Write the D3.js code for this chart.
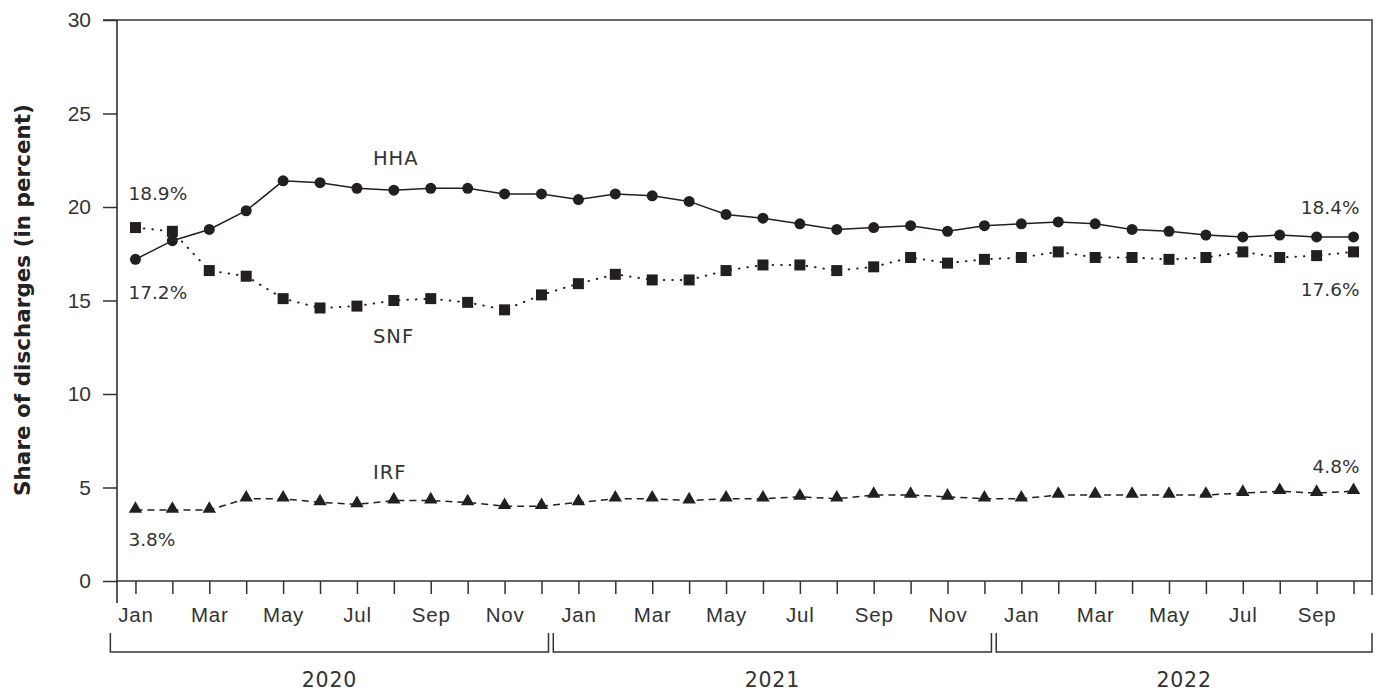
<!DOCTYPE html>
<html>
<head>
<meta charset="utf-8">
<script src="https://cdn.jsdelivr.net/npm/d3@7"></script>
<style>
  body { margin: 0; background: #fff; }
  svg { display: block; font-family: "DejaVu Sans", sans-serif; }
  .lbl { fill: #333; font-size: 19px; }
  .tick-x { fill: #333; font-size: 20.5px; letter-spacing: 0.8px; }
  .tick-y { fill: #333; font-size: 21px; }
  .ann { fill: #333; font-size: 18.5px; }
  .name { fill: #333; font-size: 19.5px; letter-spacing: 1px; }
</style>
</head>
<body>
<div id="chart"></div>
<script>
// Data
var years = [2020, 2021, 2022];
var monthNames = ["Jan", "Feb", "Mar", "Apr", "May", "Jun", "Jul", "Aug", "Sep", "Oct", "Nov", "Dec"];
var monthsPerYear = [12, 12, 10];

var hha = [17.2, 18.2, 18.8, 19.8, 21.4, 21.3, 21.0, 20.9, 21.0, 21.0, 20.7, 20.7,
           20.4, 20.7, 20.6, 20.3, 19.6, 19.4, 19.1, 18.8, 18.9, 19.0, 18.7, 19.0,
           19.1, 19.2, 19.1, 18.8, 18.7, 18.5, 18.4, 18.5, 18.4, 18.4];
var snf = [18.9, 18.7, 16.6, 16.3, 15.1, 14.6, 14.7, 15.0, 15.1, 14.9, 14.5, 15.3,
           15.9, 16.4, 16.1, 16.1, 16.6, 16.9, 16.9, 16.6, 16.8, 17.3, 17.0, 17.2,
           17.3, 17.6, 17.3, 17.3, 17.2, 17.3, 17.6, 17.3, 17.4, 17.6];
var irf = [3.8, 3.8, 3.8, 4.4, 4.4, 4.2, 4.1, 4.3, 4.3, 4.2, 4.0, 4.0,
           4.2, 4.4, 4.4, 4.3, 4.4, 4.4, 4.5, 4.4, 4.6, 4.6, 4.5, 4.4,
           4.4, 4.6, 4.6, 4.6, 4.6, 4.6, 4.7, 4.8, 4.7, 4.8];
var yTicks = [0, 5, 10, 15, 20, 25, 30];

// build month keys
var months = [];
years.forEach(function (yr, i) {
    for (var m = 0; m < monthsPerYear[i]; m++) {
        months.push({ key: yr + "-" + m, name: monthNames[m], year: yr, m: m });
    }
});

var width = 1380, height = 692;
var plotLeft = 117, plotRight = 1372, plotTop = 20, plotBottom = 581;

var svg = d3.select("#chart").append("svg")
    .attr("width", width)
    .attr("height", height);

var x = d3.scalePoint()
    .domain(months.map(function (d) { return d.key; }))
    .range([plotLeft, plotRight])
    .padding(0.5);
var y = d3.scaleLinear().domain([0, 30]).range([plotBottom, plotTop]);

// frame: top + right in gray
svg.append("path")
    .attr("d", "M" + (plotLeft - 14) + "," + plotTop + "H" + plotRight + "V" + 595)
    .attr("fill", "none")
    .attr("stroke", "#6b6b6b")
    .attr("stroke-width", 2);

// y axis
var yAxis = svg.append("g")
    .attr("transform", "translate(" + plotLeft + ",0)")
    .call(d3.axisLeft(y).tickValues(yTicks).tickSize(14).tickPadding(12));
yAxis.select(".domain").remove();
yAxis.selectAll("line").attr("stroke", "#333").attr("stroke-width", 1.5);
yAxis.selectAll("text").attr("class", "tick-y").attr("font-family", null).attr("font-size", null).attr("fill", null);
svg.append("line")
    .attr("x1", plotLeft).attr("x2", plotLeft)
    .attr("y1", plotTop).attr("y2", 603)
    .attr("stroke", "#222").attr("stroke-width", 1.5);

// x axis
var xAxis = svg.append("g")
    .attr("transform", "translate(0," + plotBottom + ")")
    .call(d3.axisBottom(x).tickSize(13).tickPadding(13)
        .tickFormat(function (k, i) { return i % 2 === 0 ? months[i].name : ""; }));
xAxis.select(".domain").attr("d", "M" + plotLeft + ",0H" + plotRight).attr("stroke", "#333").attr("stroke-width", 1.5);
xAxis.selectAll("line").attr("stroke", "#333").attr("stroke-width", 1.5);
xAxis.selectAll("text").attr("class", "tick-x").attr("font-family", null).attr("font-size", null).attr("fill", null);

// year brackets
var step = x.step();
years.forEach(function (yr, i) {
    var ms = months.filter(function (d) { return d.year === yr; });
    var x0 = x(ms[0].key) - step * 0.68;
    var x1 = i === years.length - 1 ? plotRight : x(ms[ms.length - 1].key) + step * 0.19;
    svg.append("path")
        .attr("d", "M" + x0 + ",633V652H" + x1 + "V633")
        .attr("fill", "none")
        .attr("stroke", "#333")
        .attr("stroke-width", 1.5);
    svg.append("text")
        .attr("class", "tick-x")
        .attr("x", (x0 + x1) / 2)
        .attr("y", 687)
        .attr("text-anchor", "middle")
        .text(yr);
});

// y title
svg.append("text")
    .attr("transform", "translate(30,300) rotate(-90)")
    .attr("text-anchor", "middle")
    .attr("font-size", "21.5px")
    .attr("font-weight", "bold")
    .attr("fill", "#222")
    .text("Share of discharges (in percent)");

// series
var ink = "#231f20";
function drawLine(values, dash) {
    var line = d3.line()
        .x(function (d, i) { return x(months[i].key); })
        .y(function (d) { return y(d); });
    svg.append("path")
        .datum(values)
        .attr("d", line)
        .attr("fill", "none")
        .attr("stroke", ink)
        .attr("stroke-width", dash === "dot" ? 2 : 1.5)
        .attr("stroke-linecap", dash === "dot" ? "round" : "butt")
        .attr("stroke-dasharray", dash === "dot" ? "0.5,8" : dash);
}
drawLine(hha, null);
drawLine(snf, "dot");
drawLine(irf, "7,5");

svg.selectAll(".hha").data(hha).enter().append("circle")
    .attr("cx", function (d, i) { return x(months[i].key); })
    .attr("cy", function (d) { return y(d); })
    .attr("r", 5.5)
    .attr("fill", ink);

svg.selectAll(".snf").data(snf).enter().append("rect")
    .attr("x", function (d, i) { return x(months[i].key) - 5.5; })
    .attr("y", function (d) { return y(d) - 5.5; })
    .attr("width", 11).attr("height", 11)
    .attr("fill", ink);

var tri = d3.symbol().type(d3.symbolTriangle).size(78);
svg.selectAll(".irf").data(irf).enter().append("path")
    .attr("transform", function (d, i) { return "translate(" + x(months[i].key) + "," + (y(d) - 1) + ")"; })
    .attr("d", tri)
    .attr("fill", ink);

// labels
var last = months.length - 1;
function label(txt, xx, yy, anchor, cls) {
    svg.append("text").attr("class", cls || "ann")
        .attr("x", xx).attr("y", yy)
        .attr("dy", "0.35em")
        .attr("text-anchor", anchor || "start")
        .text(txt);
}
label("HHA", x(months[6].key) + 16, y(hha[6]) - 30, "start", "name");
label("SNF", x(months[6].key) + 16, y(snf[6]) + 30, "start", "name");
label("IRF", x(months[6].key) + 16, y(irf[6]) - 32, "start", "name");

label(snf[0].toFixed(1) + "%", x(months[0].key) - 7, y(snf[0]) - 34);
label(hha[0].toFixed(1) + "%", x(months[0].key) - 7, y(hha[0]) + 33);
label(irf[0].toFixed(1) + "%", x(months[0].key) - 7, y(irf[0]) + 30);

label(hha[last].toFixed(1) + "%", x(months[last].key) + 6, y(hha[last]) - 29, "end");
label(snf[last].toFixed(1) + "%", x(months[last].key) + 6, y(snf[last]) + 38, "end");
label(irf[last].toFixed(1) + "%", x(months[last].key) + 6, y(irf[last]) - 25, "end");
</script>
</body>
</html>
